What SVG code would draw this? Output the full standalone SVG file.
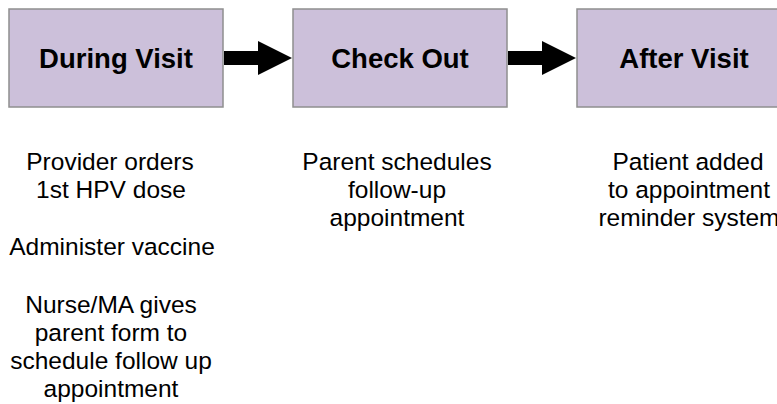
<svg xmlns="http://www.w3.org/2000/svg" width="777" height="404" viewBox="0 0 777 404">
<style>
.box{fill:#ccc0da;stroke:#8f8f8f;stroke-width:1.5}
.title{font-family:"Liberation Sans",Arial,sans-serif;font-weight:bold;font-size:27.5px;fill:#000;text-anchor:middle}
.body{font-family:"Liberation Sans",Arial,sans-serif;font-size:24.5px;fill:#000;text-anchor:middle}
.arr{fill:#000}
</style>
<rect width="777" height="404" fill="#fff"/>
<g id="connectors">
<polygon class="arr" points="224,51 258,51 258,41 292,58 258,75 258,65 224,65"/>
<polygon class="arr" points="508,51 542,51 542,41 576,58 542,75 542,65 508,65"/>
</g>
<g id="during-visit">
<rect class="box" x="9" y="9" width="214" height="98"/>
<text class="title" x="116" y="68">During Visit</text>
<text class="body" x="111"><tspan x="110" y="170">Provider orders</tspan><tspan x="111" y="198">1st HPV dose</tspan><tspan x="112" y="255">Administer vaccine</tspan><tspan x="111" y="313">Nurse/MA gives</tspan><tspan x="111" y="341">parent form to</tspan><tspan x="111" y="369">schedule follow up</tspan><tspan x="111" y="397">appointment</tspan></text>
</g>
<g id="check-out">
<rect class="box" x="293" y="9" width="214" height="98"/>
<text class="title" x="400" y="68">Check Out</text>
<text class="body"><tspan x="397" y="170">Parent schedules</tspan><tspan x="397" y="198">follow-up</tspan><tspan x="397" y="226">appointment</tspan></text>
</g>
<g id="after-visit">
<rect class="box" x="577" y="9" width="214" height="98"/>
<text class="title" x="684" y="68">After Visit</text>
<text class="body"><tspan x="688" y="170">Patient added</tspan><tspan x="689" y="198">to appointment</tspan><tspan x="689" y="226">reminder system</tspan></text>
</g>
</svg>
